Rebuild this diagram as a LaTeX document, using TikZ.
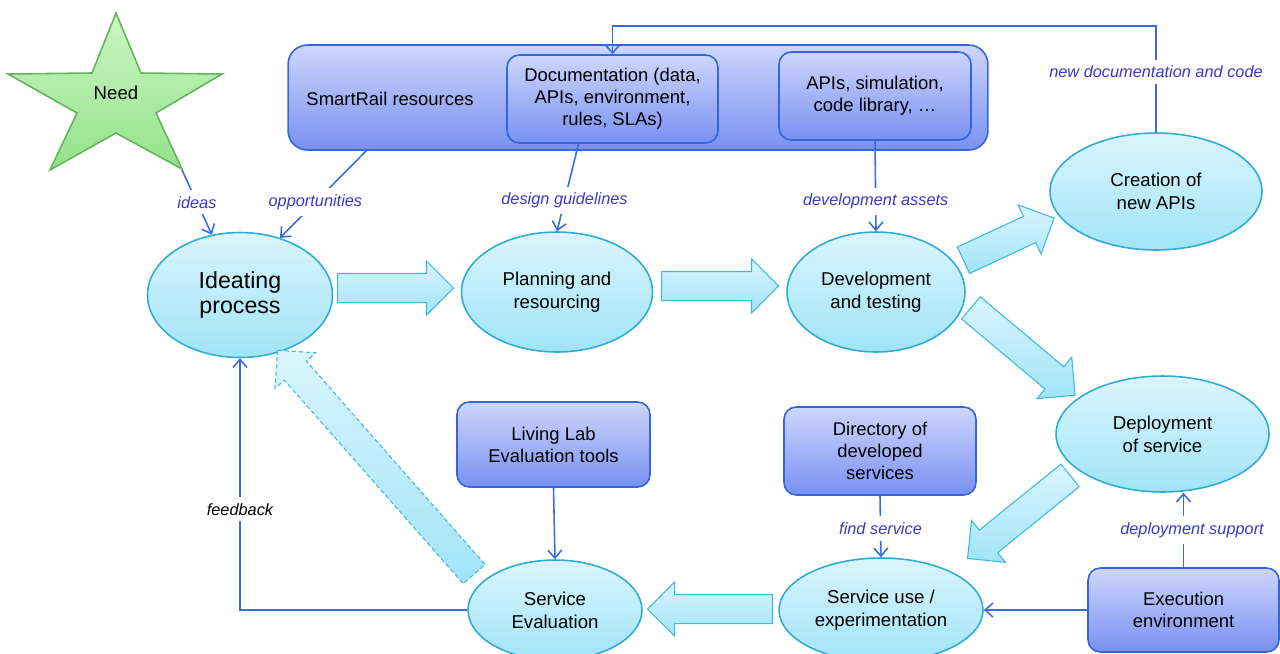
\documentclass[tikz,border=0pt]{standalone}
\usepackage{fontspec}
\setmainfont{Liberation Sans}
\usetikzlibrary{shapes, arrows, calc, arrows.meta, positioning}
\definecolor{stagetop}{RGB}{218,245,253}
\definecolor{stagebot}{RGB}{160,228,248}
\definecolor{stageline}{RGB}{46,172,212}
\definecolor{restop}{RGB}{206,214,252}
\definecolor{resbot}{RGB}{120,144,242}
\definecolor{resline}{RGB}{52,100,222}
\definecolor{connblue}{RGB}{58,108,224}
\definecolor{lblblue}{RGB}{58,58,196}
\definecolor{startop}{RGB}{204,246,196}
\definecolor{starbot}{RGB}{146,226,136}
\definecolor{starline}{RGB}{100,180,90}
\definecolor{flowline}{RGB}{58,186,222}
\tikzset{
    x=0.02cm, y=-0.02cm, % one unit is one pixel of the layout, y runs down
    stage/.style = {ellipse, draw=stageline, line width=0.9pt, top color=stagetop, bottom color=stagebot,
                    inner sep=0pt, align=center, font=\fontsize{10.6}{13}\selectfont}, % process steps
    res/.style = {rectangle, rounded corners=7pt, draw=resline, line width=0.9pt, top color=restop,
                  bottom color=resbot, inner sep=2pt, align=center, font=\fontsize{10.5}{12.5}\selectfont}, % resources
    flow/.style = {single arrow, draw=flowline, line width=0.6pt, top color=stagetop, bottom color=stagebot,
                   minimum width=0pt, inner xsep=0pt, inner ysep=0.28cm,
                   single arrow head extend=0.25cm, anchor=tail}, % thick arrows between the steps
    conn/.style = {draw=connblue, line width=0.9pt, -{Straight Barb[length=1.6mm, width=2.8mm]}},
    lbl/.style = {fill=white, inner sep=3.5pt, text=lblblue, font=\fontsize{9.3}{11}\selectfont\itshape}
}
\begin{document}
\begin{tikzpicture}
\useasboundingbox (0,0) rectangle (1280,653);
% need
\draw[draw=starline, line width=0.9pt, top color=startop, bottom color=starbot]
  (116,13) -- (141,73) -- (222,74) -- (156,113) -- (182,169) -- (116,133)
  -- (50,170) -- (77,113) -- (8,74) -- (92,73) -- cycle;
\node[font=\fontsize{10.6}{13}\selectfont] (need) at (116,93) {Need};
\coordinate (needtip) at (182,170);
% resources
\node[res, rounded corners=11pt, minimum width=14cm, minimum height=2.1cm] (smart) at (638,97.5) {};
\node[font=\fontsize{10.5}{12.5}\selectfont] (smarttxt) at (390,99) {SmartRail resources};
\node[res, minimum width=4.22cm, minimum height=1.76cm] (docs) at (612.5,99) {Documentation (data,\\APIs, environment,\\rules, SLAs)};
\node[res, minimum width=3.84cm, minimum height=1.76cm] (apis) at (875,96) {APIs, simulation,\\code library, …};
% steps
\node[stage, minimum width=3.7cm, minimum height=2.5cm, font=\fontsize{13.2}{14.2}\selectfont] (ideate) at (240,295) {Ideating\\process};
\node[stage, minimum width=3.82cm, minimum height=2.4cm] (plan) at (557,292) {Planning and\\resourcing};
\node[stage, minimum width=3.56cm, minimum height=2.4cm] (dev) at (876,292) {Development\\and testing};
\node[stage, minimum width=4.24cm, minimum height=2.34cm] (create) at (1156,191.5) {Creation of\\new APIs};
\node[stage, minimum width=4.26cm, minimum height=2.32cm] (deploy) at (1162.5,434) {Deployment\\of service};
\node[stage, minimum width=4.08cm, minimum height=2.08cm] (use) at (881,610) {Service use /\\experimentation};
\node[stage, minimum width=3.48cm, minimum height=2.0cm] (eval) at (555,610) {Service\\Evaluation};
% lower resources
\node[res, minimum width=3.86cm, minimum height=1.7cm] (lab) at (553.5,444.5) {Living Lab\\Evaluation tools};
\node[res, minimum width=3.84cm, minimum height=1.76cm] (dir) at (880,451) {Directory of\\developed\\services};
\node[res, minimum width=3.82cm, minimum height=1.68cm] (exec) at (1183.5,610) {Execution\\environment};
% flow of the process
\node[flow, minimum height=2.32cm] (f1) at (337,288) {};
\node[flow, minimum height=2.34cm] (f2) at (661,286) {};
\node[flow, minimum height=2.0cm, rotate=25] (f3) at (963,260.5) {};
\node[flow, minimum height=2.72cm, rotate=-40] (f4) at (970.5,307.5) {};
\node[flow, minimum height=2.64cm, rotate=-141] (f5) at (1070.5,475) {};
\node[flow, minimum height=2.5cm, rotate=180] (f6) at (773,609) {};
\node[flow, minimum height=5.96cm, rotate=131.3, dash pattern=on 2.5pt off 1.5pt] (f7) at (474.5,574.5) {};
% inputs
\draw[conn] (needtip) -- node[lbl, pos=0.5] {ideas} (ideate.115);
\draw[conn] ($(smart.south west)+(79,0)$) -- node[lbl, pos=0.59] {opportunities} (ideate.55);
\draw[conn] ($(docs.south)+(-34,0)$) -- node[lbl, pos=0.65] {design guidelines} (plan.north);
\draw[conn] (apis.south) -- node[lbl, pos=0.67] {development assets} (dev.north);
\draw[conn] (create.north) -- ++(0,-106) node[lbl, pos=0.57] {new documentation and code} -| (docs.north);
\draw[conn] (lab.south) -- (eval.north);
\draw[conn] (dir.south) -- node[lbl, pos=0.53] {find service} (use.north);
\draw[conn] (exec.west) -- (use.east);
\draw[conn] (exec.north) -- node[lbl, pos=0.5, xshift=0.17cm] {deployment support} (exec.north |- deploy.south);
\draw[conn] (eval.west) -| node[lbl, text=black, pos=0.7] {feedback} (ideate.south);
\end{tikzpicture}
\end{document}
